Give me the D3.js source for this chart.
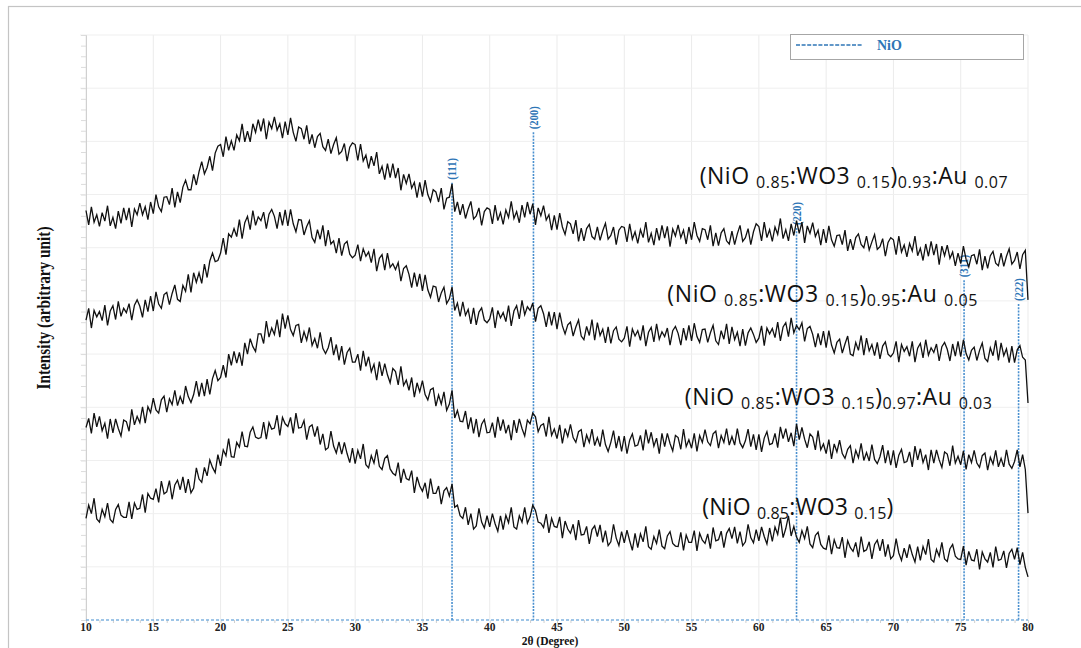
<!DOCTYPE html>
<html><head><meta charset="utf-8">
<script src="https://cdn.jsdelivr.net/npm/d3@7"></script>
<style>html,body{margin:0;padding:0;background:#fff;} svg{display:block;}</style>
</head><body>
<svg id="chart" width="1081" height="648"></svg>
<script>
// ---- data (2θ grid: start 10°, step 0.2°, 351 samples) ----
const twoThetaStart = 10, twoThetaStep = 0.2;

const seriesAu007 = [
770,743,777,748,762, 740,766,750,779,741, 757,736,769,746,775, 752,775,739,773,762, 784,762,777,753,786,
764,800,777,768,795, 796,781,812,776,805, 785,814,827,809,809, 838,818,843,862,839, 851,872,845,878,891,
894,871,909,883,901, 883,912,901,933,899, 919,899,933,917,941, 919,943,904,936,924, 946,921,933,906,937,
912,944,917,900,927, 924,904,930,895,913, 888,909,915,890,883, 904,877,894,907,876, 881,896,863,889,897,
894,864,895,863,874, 849,872,854,880,839, 853,828,858,832,858, 831,850,808,838,821, 839,812,823,794,823,
796,827,800,787,809, 805,786,812,772,793, 795,820,768,786,762, 782,755,773,787,754, 760,775,742,768,775,
772,745,780,751,766, 744,771,757,787,755, 768,747,780,757,786, 763,783,743,775,760, 779,752,762,733,761,
734,765,739,725,749, 745,726,752,712,737, 713,736,744,721,716, 739,714,732,746,716, 723,739,706,733,740,
738,711,745,716,730, 708,734,719,748,710, 727,705,737,714,742, 718,740,702,735,722, 743,719,733,707,739,
715,748,723,712,736, 734,715,742,703,728, 704,728,736,713,707, 731,706,726,742,712, 719,736,706,730,745,
740,713,748,719,734, 712,739,725,755,717, 734,713,745,723,751, 727,748,709,741,727, 747,721,733,705,735,
709,741,715,703,723, 724,706,733,694,716, 696,719,726,706,700, 722,696,711,725,697, 702,717,684,710,719,
715,687,722,692,705, 683,708,694,722,685, 699,676,707,684,712, 686,707,668,703,685, 705,680,692,666,690,
670,703,678,664,685, 687,669,697,658,684, 661,685,693,671,666, 690,665,684,698,669, 676,692,660,687,695,
602];

const seriesAu005 = [
564,586,549,582,570, 580,563,592,554,581, 591,565,599,571,586, 578,595,564,592,602, 590,569,602,580,609,
581,617,594,586,612, 616,593,614,630,603, 599,629,618,650,616, 653,635,653,633,669, 644,675,690,674,676,
690,718,687,726,720, 736,721,753,717,747, 759,734,770,742,758, 751,767,736,763,772, 759,736,767,742,771,
741,772,745,730,753, 752,724,740,751,719, 710,734,716,742,703, 733,707,713,690,718, 685,707,712,688,681,
686,706,675,698,684, 692,672,698,656,680, 687,658,690,663,670, 659,672,637,661,666, 650,625,653,627,651,
619,649,621,607,628, 626,598,615,626,595, 604,626,582,596,571, 598,573,584,557,587, 555,579,587,564,559,
566,588,549,582,568, 578,561,591,553,581, 591,566,601,574,589, 582,596,561,586,591, 576,551,580,554,579,
547,578,553,538,555, 560,534,551,564,534, 527,552,535,565,526, 559,535,547,521,551, 520,544,551,528,523,
530,552,514,547,534, 544,526,554,515,541, 550,523,557,528,542, 533,549,517,544,552, 539,517,549,526,554,
525,558,533,522,546, 547,522,540,554,525, 518,544,528,557,519, 551,527,541,515,547, 516,540,549,537,522,
530,553,516,549,538, 548,531,560,525,551, 559,533,568,540,554, 546,559,524,548,552, 537,513,539,517,543,
512,544,517,502,522, 528,502,519,534,500, 497,522,507,535,498, 530,506,518,497,522, 491,515,523,500,495,
502,524,485,518,505, 514,496,524,485,511, 520,493,527,498,512, 503,519,487,514,522, 509,487,519,496,524,
495,527,501,489,507, 513,488,507,521,492, 486,512,497,526,488, 521,497,510,484,515, 484,508,516,494,489,
408];

const seriesAu003 = [
362,379,351,389,363, 383,356,370,341,378, 352,378,360,346,376, 373,355,396,367,383, 371,401,370,401,390,
417,395,389,414,421, 391,416,405,432,403, 420,406,440,420,409, 424,449,420,446,421, 453,424,454,469,450,
456,479,456,500,479, 505,483,503,478,521, 500,529,514,505,538, 538,520,562,532,549, 537,565,532,576,548,
573,546,535,554,556, 521,542,526,550,516, 529,511,541,511,501, 512,532,498,518,488, 515,480,503,511,485,
485,500,469,506,477, 495,467,481,451,486, 459,482,461,446,473, 467,442,477,441,451, 432,456,419,446,429,
450,424,414,433,436, 402,423,406,429,394, 406,432,380,394,374, 373,393,359,381,351, 378,344,368,377,352,
353,371,343,382,356, 377,351,367,338,376, 352,378,360,346,376, 369,389,382,354,366, 369,345,382,347,359,
341,367,332,360,345, 368,343,334,354,358, 325,348,334,359,328, 343,326,358,330,317, 334,356,323,346,317,
346,313,338,350,327, 329,347,319,358,332, 353,327,342,313,351, 326,351,332,318,347, 343,321,359,326,339,
323,351,317,347,334, 358,335,328,350,355, 323,347,334,360,329, 345,329,360,333,324, 337,359,326,349,320,
349,316,342,354,330, 332,351,324,363,341, 360,335,352,327,369, 339,362,340,324,350, 344,320,356,320,331,
313,339,303,331,316, 338,313,304,321,328, 295,319,305,332,300, 315,299,330,302,294, 307,329,295,319,291,
319,286,310,321,296, 298,316,288,327,301, 322,296,311,282,320, 295,320,301,287,316, 312,290,328,295,308,
292,318,283,311,296, 319,295,287,309,314, 282,306,293,319,288, 304,288,320,293,285, 298,320,288,311,283,
201];

const seriesAu000 = [
191,216,200,229,190, 184,208,194,220,189, 183,208,217,197,193, 193,222,190,220,208, 210,236,202,238,229,
227,247,221,261,237, 241,262,227,254,263, 245,269,239,265,239, 248,286,265,259,287, 271,301,287,277,311,
290,320,309,341,307, 306,334,325,354,327, 326,353,363,344,341, 343,372,340,371,359, 361,385,347,381,369,
364,381,351,389,361, 362,375,339,363,367, 345,364,330,350,320, 324,355,327,314,335, 312,334,313,296,323,
294,319,303,331,292, 286,309,295,321,289, 283,304,309,284,276, 272,296,258,284,266, 263,281,239,269,252,
242,258,228,266,238, 238,252,218,243,249, 233,256,212,216,196, 191,212,179,200,171, 177,210,184,173,196,
175,200,181,167,196, 170,197,183,212,175, 171,196,184,212,182, 194,216,206,184,182, 174,199,164,191,176,
174,194,154,186,171, 163,180,150,188,160, 161,176,143,170,177, 157,179,146,168,140, 147,180,154,140,166,
145,169,149,131,163, 136,162,147,176,138, 133,157,144,170,139, 134,158,166,144,139, 138,165,131,160,146,
146,168,130,163,150, 144,162,134,174,149, 151,167,136,163,172, 153,175,144,166,140, 147,180,155,145,170,
149,175,157,143,173, 148,175,161,192,155, 172,196,158,176,156, 146,168,153,176,143, 136,159,165,142,135,
133,159,124,151,136, 135,156,117,149,136, 129,146,118,157,129, 132,147,115,142,150, 130,152,119,142,115,
121,153,126,112,135, 117,142,123,109,138, 112,138,123,152,114, 109,133,120,146,115, 110,134,142,120,115,
114,139,103,129,113, 111,133,95,128,115, 109,127,99,138,112, 114,130,98,125,133, 114,136,104,127,99,
81];

const xTickValues = [10,15,20,25,30,35,40,45,50,55,60,65,70,75,80];
const nioPeak2Theta = [37.2, 43.25, 62.8, 75.25, 79.3];
const nioPeakLabels = ["(111)", "(200)", "(220)", "(311)", "(222)"];
const nioPeakHeights = [822, 917, 737, 639, 594];

const seriesLabels = [
  [["(NiO ",0],["0.85",1],[":WO3 ",0],["0.15",1],[")",0],["0.93",1],[":Au ",0],["0.07",1]],
  [["(NiO ",0],["0.85",1],[":WO3 ",0],["0.15",1],[")",0],["0.95",1],[":Au ",0],["0.05",1]],
  [["(NiO ",0],["0.85",1],[":WO3 ",0],["0.15",1],[")",0],["0.97",1],[":Au ",0],["0.03",1]],
  [["(NiO ",0],["0.85",1],[":WO3 ",0],["0.15",1],[")",0]]
];
const seriesLabelAnchors = [[55.6, 820], [53.2, 598], [54.5, 404], [55.8, 197]];
const seriesLabelWidths = [308, 310, 307, 191];
const legendLabel = "NiO";

// ---- drawing ----
const svg = d3.select("#chart");
const x = d3.scaleLinear().domain([10, 80]).range([86, 1028]);
const y = d3.scaleLinear().domain([0, 1100]).range([620, 35]);
const blue = "#2e75b6";

svg.append("rect").attr("x", 8.5).attr("y", 6.5).attr("width", 1200).attr("height", 800)
  .attr("fill", "#fff").attr("stroke", "#c4c4c4").attr("stroke-width", 1.2);

// grid
const g = svg.append("g");
g.selectAll(".vg").data(d3.range(10, 80.1, 5)).join("line")
  .attr("x1", d => x(d)).attr("x2", d => x(d)).attr("y1", y(1100)).attr("y2", y(0))
  .attr("stroke", "#ebebeb").attr("stroke-width", 1);
g.selectAll(".hg").data(d3.range(100, 1100.1, 100)).join("line")
  .attr("x1", x(10) - 6).attr("x2", x(80)).attr("y1", d => y(d)).attr("y2", d => y(d))
  .attr("stroke", "#efefef").attr("stroke-width", 1);

// y axis (no labels)
const yAxis = svg.append("g").attr("transform", `translate(${x(10)},0)`)
  .call(d3.axisLeft(y).tickValues(d3.range(0, 1100.1, 20)).tickSize(5).tickFormat(""));
yAxis.select(".domain").attr("stroke", "#d0d0d0");
yAxis.selectAll(".tick line").attr("stroke", "#dcdcdc");

// x axis minor ticks + dashed baseline
const xAxis = svg.append("g").attr("transform", `translate(0,${y(0)})`)
  .call(d3.axisBottom(x).tickValues(d3.range(10, 80.1, 1)).tickSize(3).tickFormat(""));
xAxis.select(".domain").remove();
xAxis.selectAll(".tick line").attr("stroke", "#cfcfcf");
svg.append("line").attr("x1", x(10)).attr("x2", x(80)).attr("y1", y(0)).attr("y2", y(0))
  .attr("stroke", "#7fb3df").attr("stroke-width", 1.3).attr("stroke-dasharray", "3,2");

svg.append("g").selectAll("text").data(xTickValues).join("text")
  .attr("x", d => x(d)).attr("y", 630.5).attr("text-anchor", "middle")
  .attr("font-family", "Liberation Serif").attr("font-weight", "bold").attr("font-size", 11.5)
  .attr("fill", "#222").text(d => d);

svg.append("text").attr("x", 550).attr("y", 645).attr("text-anchor", "middle")
  .attr("font-family", "Liberation Serif").attr("font-weight", "bold").attr("font-size", 11.5)
  .attr("fill", "#111").text("2θ (Degree)");

svg.append("text").attr("transform", "translate(44,308) rotate(-90) scale(0.85,1)")
  .attr("text-anchor", "middle").attr("dy", "0.35em")
  .attr("font-family", "Liberation Serif").attr("font-weight", "bold").attr("font-size", 18)
  .attr("fill", "#111").text("Intensity (arbitrary unit)");

// NiO reference lines
svg.append("g").selectAll("line").data(nioPeak2Theta).join("line")
  .attr("x1", d => x(d)).attr("x2", d => x(d))
  .attr("y1", (d, i) => y(nioPeakHeights[i])).attr("y2", y(0))
  .attr("stroke", "#4a90cf").attr("stroke-width", 1.6).attr("stroke-dasharray", "2,1.2");
svg.append("g").selectAll("text").data(nioPeak2Theta).join("text")
  .attr("transform", (d, i) => `translate(${x(d)},${y(nioPeakHeights[i]) - 3}) rotate(-90) scale(0.85,1)`)
  .attr("dy", "0.35em")
  .attr("font-family", "Liberation Serif").attr("font-weight", "bold").attr("font-size", 12.5)
  .attr("fill", blue).text((d, i) => nioPeakLabels[i]);

// spectra
const line = d3.line()
  .x((d, i) => x(twoThetaStart + i * twoThetaStep))
  .y(d => y(d));
[seriesAu007, seriesAu005, seriesAu003, seriesAu000].forEach(s => {
  svg.append("path").datum(s).attr("d", line).attr("fill", "none")
    .attr("stroke", "#111").attr("stroke-width", 1.3).attr("stroke-linejoin", "miter");
});

// series labels
seriesLabels.forEach((parts, k) => {
  const t = svg.append("text")
    .attr("x", x(seriesLabelAnchors[k][0])).attr("y", y(seriesLabelAnchors[k][1]))
    .attr("font-family", "Open Sans").attr("fill", "#111")
    .attr("textLength", seriesLabelWidths[k]).attr("lengthAdjust", "spacing");
  let cur = 0;
  parts.forEach(([txt, sub]) => {
    const dy = sub === cur ? 0 : (sub ? 4 : -4);
    cur = sub;
    t.append("tspan").attr("dy", dy).attr("font-size", sub ? 16 : 23)
      .attr("xml:space", "preserve").text(txt);
  });
});

// legend
svg.append("rect").attr("x", 790.5).attr("y", 34.5).attr("width", 233).attr("height", 25)
  .attr("fill", "#fff").attr("stroke", "#a6a6a6").attr("stroke-width", 1);
svg.append("line").attr("x1", 796).attr("x2", 863).attr("y1", 45).attr("y2", 45)
  .attr("stroke", blue).attr("stroke-width", 1.5).attr("stroke-dasharray", "4,1.6");
svg.append("text").attr("x", 877).attr("y", 50)
  .attr("font-family", "Liberation Serif").attr("font-weight", "bold").attr("font-size", 14)
  .attr("fill", blue).text(legendLabel);
</script>
</body></html>
